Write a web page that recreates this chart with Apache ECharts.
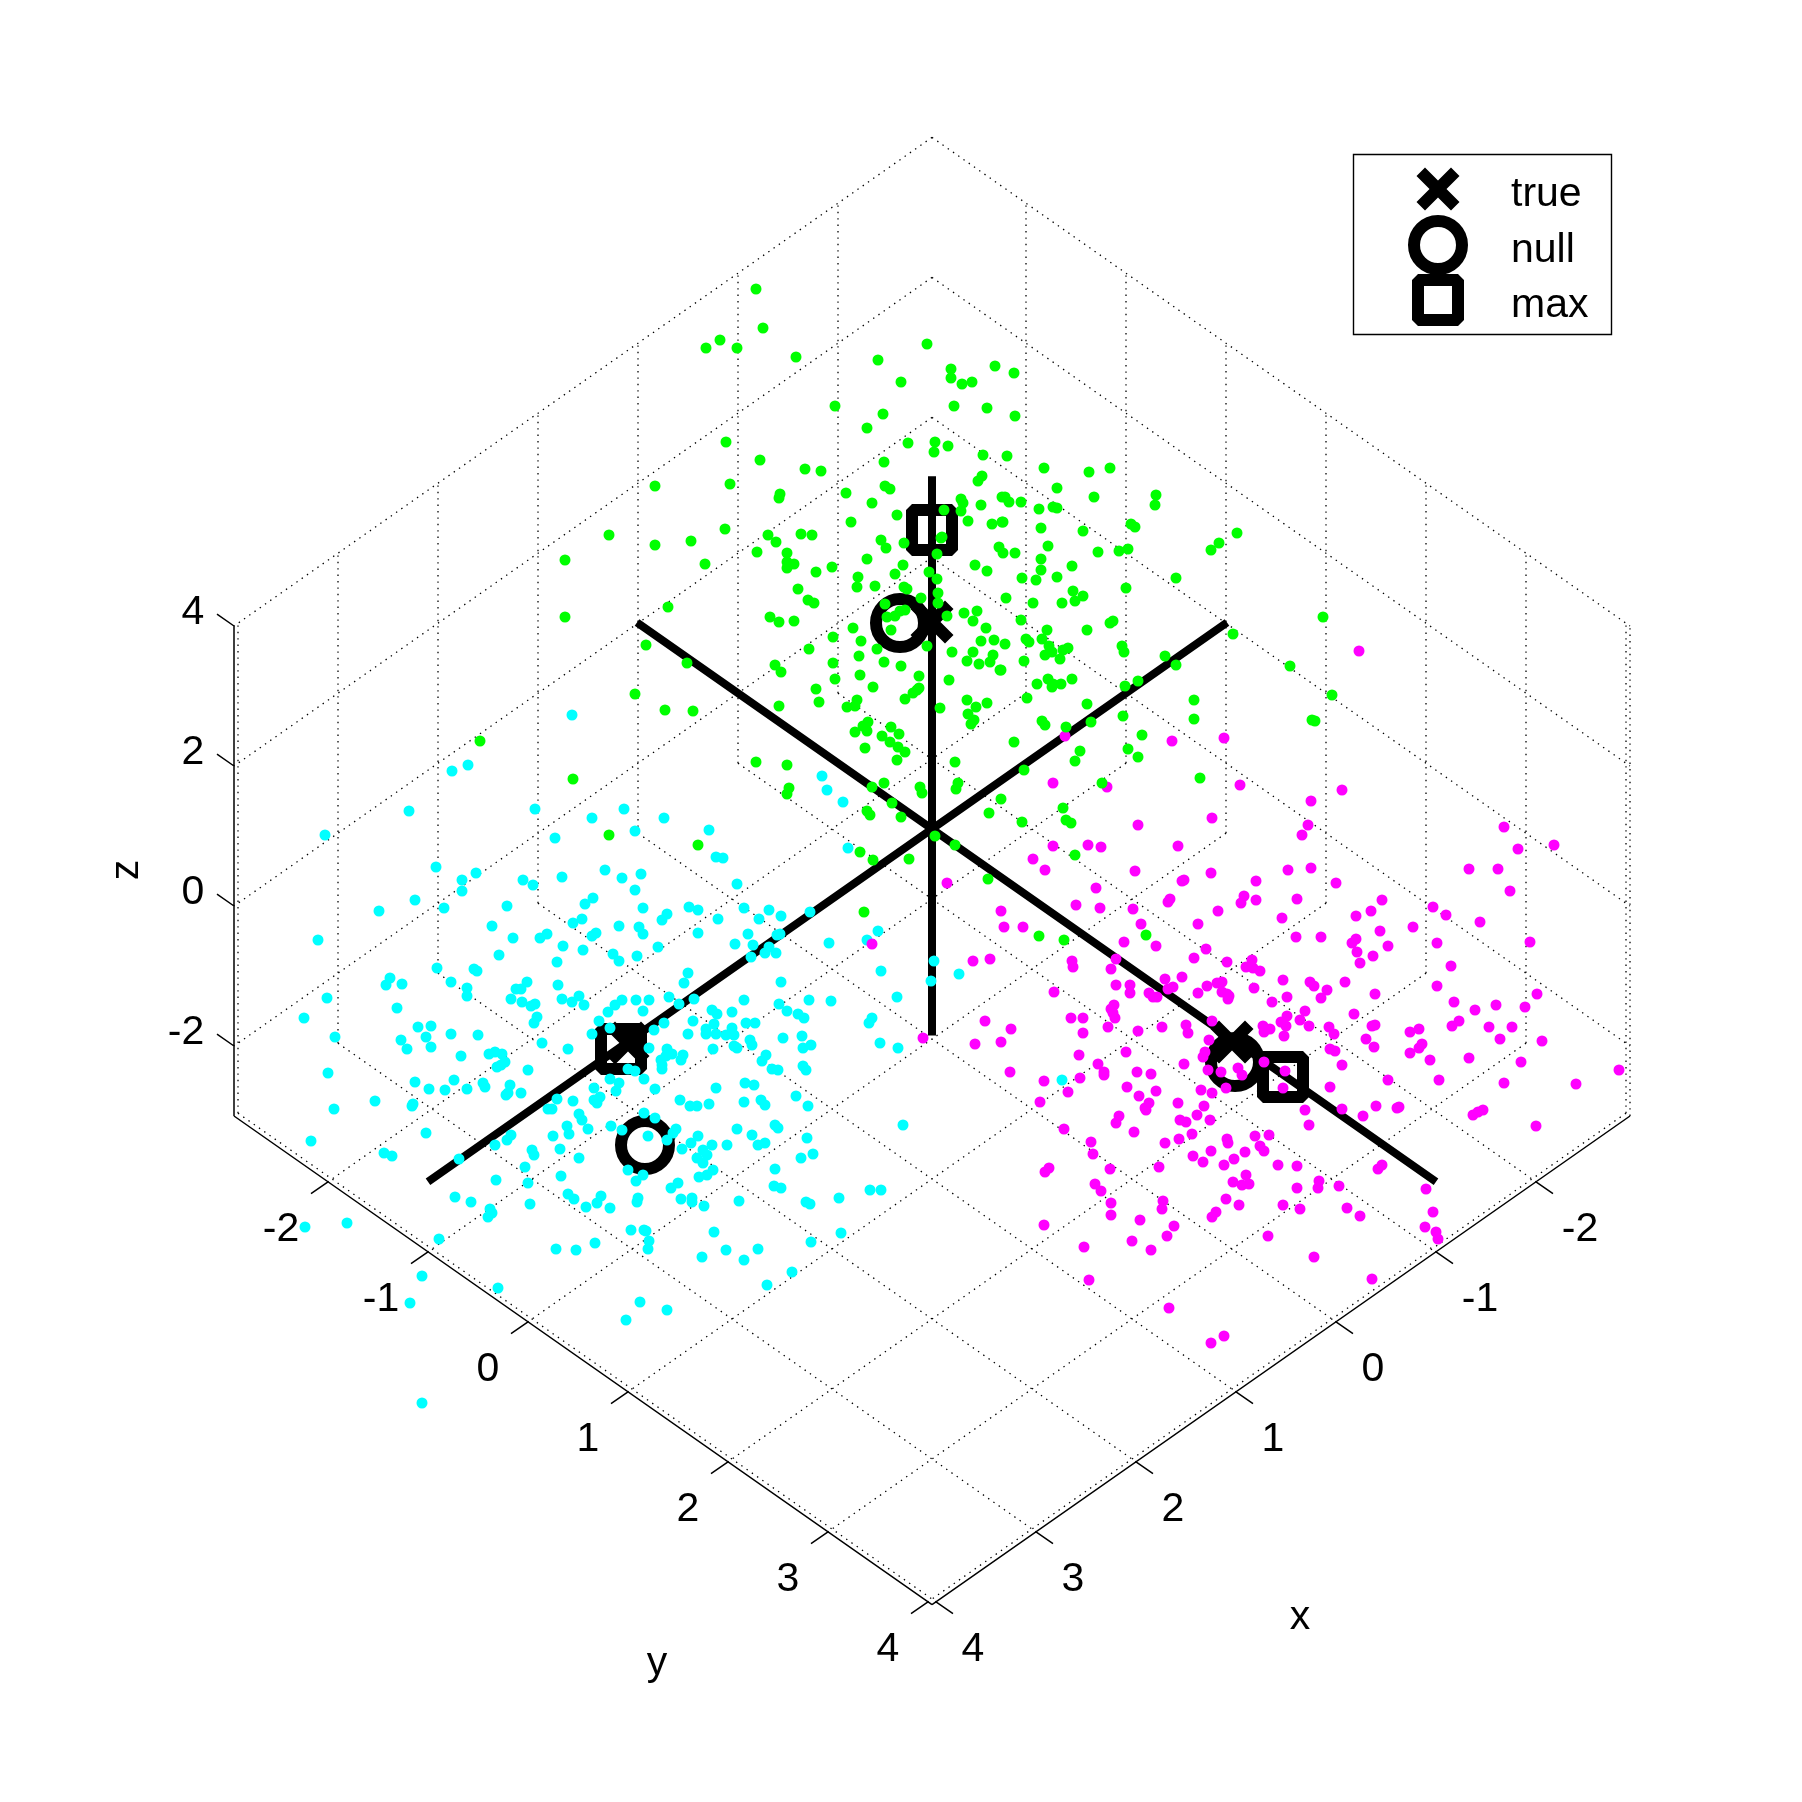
<!DOCTYPE html>
<html><head><meta charset="utf-8">
<style>html,body{margin:0;padding:0;background:#fff}#c{width:1802px;height:1802px}</style>
<script src="https://cdn.jsdelivr.net/npm/echarts@6/dist/echarts.min.js"></script>
</head><body><div id="c"></div>
<script>
// Axis data
const xTicks=[-2,-1,0,1,2,3,4];
const yTicks=[-2,-1,0,1,2,3,4];
const zTicks=[-2,0,2,4];
const xLim=[-2.94,4.04];
const yLim=[-2.94,4.04];
const zLim=[-3,4];
const centralAxisRange=[-2.95,5.04];
// Points (horizontal, vertical)
const greenPoints=[[756,289],[763,328],[720,340],[706,348],[737,348],[796,357],[927,344],[878,360],[951,369],[951,378],[962,384],[972,382],[901,382],[995,366],[1014,373],[835,406],[954,406],[987,408],[1015,416],[883,414],[867,428],[726,442],[908,443],[935,442],[934,452],[948,446],[983,455],[1007,456],[884,462],[1044,468],[760,460],[805,469],[821,471],[982,476],[978,481],[655,486],[730,484],[885,486],[890,489],[780,494],[779,498],[846,493],[961,499],[1002,497],[1005,497],[1089,472],[1110,468],[1057,488],[1094,497],[1156,495],[1155,505],[1009,502],[1021,502],[1039,509],[1053,507],[1057,508],[1003,522],[1041,528],[1083,531],[1131,524],[1135,527],[1048,546],[1003,553],[1015,553],[1098,552],[1119,551],[1128,549],[1211,550],[1219,543],[1237,533],[1041,559],[1041,570],[1072,566],[1022,578],[1036,580],[1057,577],[1176,578],[1126,588],[1073,591],[1083,596],[1075,601],[1006,598],[1033,603],[1062,603],[1021,620],[1323,617],[1113,621],[1110,623],[1047,630],[1087,630],[1233,634],[1026,639],[1029,642],[1042,639],[1005,644],[1049,646],[1068,648],[1063,650],[1052,652],[1045,655],[1122,646],[1124,652],[1060,659],[1024,661],[1165,656],[1176,665],[1290,666],[1001,670],[1048,679],[1072,679],[1037,684],[1053,684],[1052,687],[1061,684],[1138,681],[1125,686],[1027,698],[1087,704],[1194,700],[1332,695],[1123,716],[1194,719],[1042,721],[1045,725],[1312,720],[1315,721],[1066,727],[1091,722],[1142,735],[1014,742],[872,503],[897,515],[851,522],[725,529],[768,535],[801,534],[812,535],[776,542],[757,552],[787,553],[787,562],[794,564],[787,568],[705,564],[816,572],[832,567],[867,559],[881,540],[886,548],[904,543],[944,510],[961,511],[963,503],[968,521],[981,505],[992,524],[1002,522],[937,554],[941,538],[942,537],[903,565],[895,574],[929,572],[858,577],[857,587],[875,586],[937,579],[904,587],[907,589],[938,593],[798,589],[808,600],[814,603],[921,598],[938,603],[885,604],[999,547],[975,565],[987,571],[770,617],[779,622],[794,621],[905,610],[900,611],[895,616],[887,617],[947,616],[964,613],[977,611],[973,621],[986,628],[891,630],[853,628],[833,637],[861,641],[809,649],[877,649],[927,646],[981,641],[994,640],[952,652],[973,652],[993,655],[990,662],[967,661],[979,664],[1000,670],[833,663],[859,656],[884,662],[901,666],[775,665],[781,672],[860,675],[835,679],[919,676],[949,680],[873,687],[816,689],[919,688],[913,693],[917,690],[905,699],[819,702],[857,700],[847,707],[855,706],[779,706],[967,700],[976,707],[987,703],[940,708],[968,714],[974,720],[971,724],[868,722],[863,726],[867,731],[855,732],[891,727],[899,734],[882,736],[890,742],[898,747],[905,752],[865,748],[897,760],[1080,751],[1075,761],[955,762],[756,762],[787,765],[1024,770],[872,787],[884,783],[920,787],[922,793],[958,783],[956,789],[789,788],[787,794],[1001,799],[1128,749],[1138,757],[1102,783],[1200,778],[989,813],[1022,822],[1063,808],[1066,820],[1071,823],[892,803],[901,817],[867,811],[870,815],[935,836],[955,845],[860,852],[873,860],[909,859],[1075,855],[988,879],[864,912],[1039,936],[1064,940],[1146,935],[655,545],[691,541],[609,535],[565,560],[565,617],[668,607],[646,645],[687,663],[635,694],[665,710],[693,711],[480,741],[573,779],[609,835],[698,845]];
const cyanPoints=[[572,715],[468,765],[452,771],[325,835],[409,811],[535,809],[624,809],[592,818],[635,831],[664,818],[709,830],[716,857],[723,858],[436,867],[476,873],[462,880],[462,891],[415,900],[379,911],[444,908],[555,838],[523,880],[533,885],[562,877],[605,870],[622,878],[641,874],[635,890],[593,898],[585,904],[582,919],[573,923],[507,906],[492,926],[513,938],[540,938],[547,934],[563,946],[583,950],[592,936],[596,933],[619,926],[639,927],[643,934],[643,908],[662,920],[667,914],[689,907],[698,910],[698,933],[658,947],[637,956],[613,954],[619,961],[557,962],[499,955],[318,940],[437,968],[474,969],[477,971],[451,982],[467,988],[467,996],[390,978],[386,985],[402,984],[327,998],[304,1018],[397,1008],[527,982],[516,989],[521,989],[511,999],[522,1002],[531,1006],[535,1004],[537,1017],[534,1023],[558,985],[562,999],[572,1002],[579,996],[584,1005],[615,1005],[622,1000],[608,1012],[636,1000],[649,1000],[643,1011],[669,997],[688,973],[684,983],[694,999],[679,1004],[599,1021],[610,1028],[592,1034],[654,1030],[664,1023],[693,1021],[688,1034],[335,1037],[418,1027],[431,1026],[426,1037],[451,1034],[478,1035],[401,1040],[407,1049],[431,1047],[542,1043],[568,1049],[649,1048],[461,1056],[489,1054],[495,1052],[502,1054],[505,1062],[501,1065],[497,1067],[528,1070],[667,1049],[672,1054],[661,1060],[666,1056],[683,1055],[681,1060],[662,1065],[662,1069],[328,1073],[415,1082],[454,1080],[429,1089],[445,1090],[467,1089],[483,1083],[485,1087],[510,1085],[508,1093],[506,1095],[521,1093],[628,1069],[635,1071],[610,1079],[619,1083],[616,1091],[644,1079],[655,1089],[594,1088],[600,1097],[594,1100],[597,1103],[573,1101],[680,1100],[690,1106],[697,1106],[375,1101],[334,1109],[413,1104],[412,1106],[579,1114],[557,1099],[548,1109],[552,1109],[644,1113],[655,1118],[737,884],[718,919],[744,908],[769,910],[759,919],[781,916],[810,912],[748,934],[780,934],[777,935],[735,944],[753,945],[769,947],[765,953],[776,953],[829,943],[867,940],[878,931],[751,957],[881,971],[781,982],[744,1000],[809,1000],[831,1001],[897,997],[779,1004],[712,1010],[717,1014],[732,1012],[787,1011],[798,1014],[804,1018],[872,1018],[869,1023],[714,1024],[706,1029],[706,1034],[716,1034],[732,1028],[726,1035],[734,1035],[746,1023],[755,1023],[783,1038],[802,1036],[750,1040],[752,1045],[734,1046],[737,1048],[713,1049],[811,1045],[803,1048],[880,1043],[898,1048],[766,1055],[762,1061],[772,1069],[778,1070],[803,1066],[806,1070],[716,1088],[745,1083],[754,1085],[709,1104],[744,1102],[761,1100],[765,1105],[796,1096],[808,1106],[611,1126],[622,1130],[676,1129],[673,1133],[737,1129],[775,1125],[778,1128],[903,1125],[648,1136],[667,1140],[698,1136],[752,1135],[807,1138],[682,1149],[691,1143],[712,1145],[727,1145],[758,1145],[765,1143],[703,1150],[707,1155],[697,1158],[703,1163],[813,1154],[801,1158],[775,1169],[628,1170],[643,1175],[713,1170],[707,1175],[699,1177],[678,1183],[426,1133],[553,1136],[582,1120],[588,1129],[567,1126],[569,1134],[507,1140],[511,1135],[495,1145],[532,1150],[534,1155],[560,1149],[579,1158],[525,1167],[496,1180],[528,1183],[561,1176],[455,1197],[471,1202],[530,1204],[568,1194],[574,1199],[601,1196],[597,1203],[586,1207],[610,1208],[636,1181],[671,1188],[638,1198],[637,1202],[681,1199],[692,1198],[692,1202],[704,1206],[739,1201],[774,1186],[781,1188],[806,1202],[810,1204],[490,1209],[492,1213],[488,1217],[631,1230],[644,1230],[646,1231],[649,1241],[648,1249],[714,1232],[595,1243],[556,1249],[576,1250],[702,1257],[726,1250],[744,1260],[758,1249],[811,1242],[439,1239],[792,1272],[767,1285],[498,1288],[640,1302],[667,1310],[626,1320],[422,1276],[384,1153],[392,1156],[459,1159],[305,1227],[347,1223],[410,1303],[422,1403],[311,1141],[822,776],[827,790],[843,802],[848,848],[934,961],[931,981],[959,974],[1062,1080],[870,1190],[881,1190],[841,1233],[839,1198]];
const magentaPoints=[[1065,736],[1172,741],[1224,738],[1053,783],[1107,787],[1138,825],[1053,846],[1088,845],[1101,847],[1178,846],[1033,859],[1045,870],[1135,871],[1182,881],[1184,880],[947,883],[1096,888],[1170,899],[1168,902],[1076,905],[1100,908],[1133,909],[1001,911],[1004,927],[1023,927],[1141,924],[1198,924],[1124,942],[1156,946],[872,944],[1116,959],[1072,961],[1073,967],[1111,969],[973,961],[990,959],[1194,958],[1165,979],[1182,977],[1116,985],[1130,985],[1130,993],[1173,987],[1168,989],[1054,992],[1149,993],[1153,997],[1157,997],[1198,993],[1256,881],[1244,896],[1241,903],[1256,900],[1218,911],[1282,918],[1297,899],[1296,937],[1206,949],[1227,962],[1252,960],[1246,967],[1253,968],[1260,971],[1283,980],[1207,986],[1217,983],[1222,982],[1254,988],[1222,992],[1227,994],[1229,996],[1228,999],[1272,1002],[1287,997],[1114,1005],[1111,1009],[1113,1013],[1115,1018],[1071,1018],[1083,1018],[1108,1027],[1011,1029],[1138,1031],[1162,1027],[1083,1033],[1186,1025],[1188,1033],[1212,1021],[1287,1016],[1281,1022],[1286,1026],[1263,1026],[1264,1032],[1270,1029],[1300,1020],[1284,1036],[1001,1042],[1209,1040],[1079,1055],[1126,1052],[1205,1052],[1203,1057],[1098,1064],[1184,1064],[1104,1072],[1104,1075],[1137,1072],[1151,1074],[1010,1072],[1044,1081],[1080,1078],[1068,1092],[1127,1087],[1156,1091],[1139,1096],[1040,1102],[1149,1103],[1145,1108],[1146,1110],[1178,1103],[1201,1090],[1212,1093],[1226,1088],[1264,1062],[1285,1071],[1283,1088],[1221,1072],[1238,1068],[1242,1075],[1208,1070],[1204,1106],[1197,1115],[1180,1120],[1186,1122],[1210,1120],[1119,1116],[1116,1123],[1134,1132],[1064,1129],[1192,1134],[1179,1139],[1165,1143],[1091,1142],[1093,1154],[1255,1136],[1269,1135],[1227,1139],[1228,1143],[1260,1146],[1264,1151],[1193,1156],[1211,1151],[1203,1162],[1245,1152],[1234,1159],[1224,1165],[1278,1165],[1297,1166],[1159,1167],[1110,1169],[1049,1168],[1045,1172],[1246,1175],[1233,1182],[1305,1110],[1309,1125],[1342,1109],[1363,1116],[1376,1106],[1397,1108],[1378,1169],[1382,1165],[1319,1181],[1318,1188],[1297,1188],[1339,1186],[1283,1205],[1300,1209],[1347,1208],[1360,1216],[1242,1185],[1249,1184],[1226,1199],[1239,1205],[1268,1236],[1314,1257],[1372,1279],[1216,1212],[1212,1217],[1163,1201],[1162,1209],[1095,1184],[1101,1191],[1111,1203],[1111,1215],[1140,1220],[1174,1226],[1167,1236],[1132,1241],[1151,1250],[1044,1225],[1084,1247],[1089,1280],[1169,1308],[1224,1336],[1211,1343],[1311,801],[1308,825],[1302,835],[1504,827],[1518,849],[1554,845],[1288,870],[1311,868],[1469,869],[1498,869],[1336,883],[1510,891],[1382,900],[1433,907],[1446,915],[1371,911],[1356,916],[1480,922],[1413,927],[1380,931],[1321,937],[1356,939],[1352,943],[1437,943],[1530,942],[1388,946],[1357,952],[1373,956],[1360,963],[1451,966],[1310,982],[1314,986],[1345,982],[1327,990],[1321,998],[1437,986],[1375,994],[1537,994],[1454,1002],[1496,1005],[1525,1007],[1475,1010],[1305,1011],[1354,1014],[1309,1026],[1459,1021],[1452,1026],[1329,1027],[1334,1034],[1372,1026],[1375,1025],[1419,1029],[1410,1032],[1489,1027],[1512,1027],[1366,1039],[1500,1039],[1542,1041],[1330,1049],[1335,1051],[1374,1047],[1422,1044],[1419,1048],[1410,1053],[1430,1060],[1469,1058],[1521,1062],[1342,1065],[1619,1070],[1388,1080],[1439,1080],[1504,1083],[1576,1084],[1330,1087],[1359,651],[1342,790],[1240,785],[1212,818],[1211,873],[1426,1189],[1433,1212],[1436,1232],[1425,1227],[1438,1239],[1478,1112],[1473,1115],[1483,1110],[1536,1126],[1399,1107],[923,1038],[985,1021],[975,1044]];
// Estimators as read off the view plane
const trueReadings=[[932,622],[1232,1042],[628,1043]];
const nullReadings=[[900,623],[1235,1062],[645,1145]];
const maxReadings=[[932,530],[1283,1077],[621,1049]];
const legendNames=['true','null','max'];
const legendRowsY=[189,245,300];
const legendTextY=[195,251,306];

// view projection from the 3D axes to the view plane
const P=(x,y,z)=>[932+100*(y-x),829+70*(x+y)-70*z];
const BREAK=[NaN,NaN];
function segs(list){const out=[];list.forEach(s=>{out.push(P(...s[0]),P(...s[1]),BREAK)});return out;}
const gridSegs=[];
xTicks.forEach(t=>{gridSegs.push([[t,yLim[0],zLim[0]],[t,yLim[1],zLim[0]]]);gridSegs.push([[t,yLim[0],zLim[0]],[t,yLim[0],zLim[1]]]);});
yTicks.forEach(t=>{gridSegs.push([[xLim[0],t,zLim[0]],[xLim[1],t,zLim[0]]]);gridSegs.push([[xLim[0],t,zLim[0]],[xLim[0],t,zLim[1]]]);});
zTicks.forEach(t=>{gridSegs.push([[xLim[0],yLim[0],t],[xLim[1],yLim[0],t]]);gridSegs.push([[xLim[0],yLim[0],t],[xLim[0],yLim[1],t]]);});
// right-hand box edge
gridSegs.push([[xLim[0],yLim[1],zLim[0]],[xLim[0],yLim[1],zLim[1]]]);
const axisSegs=[
 [[xLim[1],yLim[0],zLim[0]],[xLim[1],yLim[1],zLim[0]]],
 [[xLim[0],yLim[1],zLim[0]],[xLim[1],yLim[1],zLim[0]]],
 [[xLim[1],yLim[0],zLim[0]],[xLim[1],yLim[0],zLim[1]]]
];
const T=0.17;
xTicks.forEach(t=>axisSegs.push([[t,yLim[1],zLim[0]],[t,yLim[1]+T,zLim[0]]]));
yTicks.forEach(t=>axisSegs.push([[xLim[1],t,zLim[0]],[xLim[1]+T,t,zLim[0]]]));
zTicks.forEach(t=>axisSegs.push([[xLim[1],yLim[0],t],[xLim[1],yLim[0]-T,t]]));
const [a0,a1]=centralAxisRange;
const thickSegs=[[[a0,0,0],[a1,0,0]],[[0,a0,0],[0,a1,0]],[[0,0,a0],[0,0,a1]]];

const lineS=(name,data,w,dash,z)=>({name,type:'line',data,showSymbol:false,symbol:'none',silent:true,clip:false,z,connectNulls:false,
  lineStyle:{color:'#000',width:w,type:dash||'solid',cap:'butt',opacity:1}});
const dots=(name,data,color,z)=>({name,type:'scatter',data,symbol:'circle',symbolSize:11,silent:true,z,itemStyle:{color,borderWidth:0,opacity:1}});
const XPATH='path://M8.5 0L21.5 13L34.5 0L43 8.5L30 21.5L43 34.5L34.5 43L21.5 30L8.5 43L0 34.5L13 21.5L0 8.5Z';
const mk={
 'true':{symbol:XPATH,symbolSize:43,itemStyle:{color:'#000',borderWidth:0,opacity:1}},
 'null':{symbol:'circle',symbolSize:48,itemStyle:{color:'rgba(0,0,0,0)',borderColor:'#000',borderWidth:12,opacity:1}},
 'max':{symbol:'rect',symbolSize:40,itemStyle:{color:'rgba(0,0,0,0)',borderColor:'#000',borderWidth:12,borderJoin:'bevel',opacity:1}}
};
const marks=(name,data,z)=>Object.assign({name,type:'scatter',data,silent:true,z},mk[name]);
const txt=(name,items,align,rot)=>({name,type:'scatter',symbolSize:0,silent:true,z:9,data:items,itemStyle:{opacity:1},
  label:{show:true,position:'inside',formatter:p=>p.data[2],fontFamily:'"Liberation Sans",Arial,sans-serif',fontSize:41,color:'#000',opacity:1,align:align,verticalAlign:'middle',rotate:rot||0}});
const fmt=t=>String(t);
const xLab=xTicks.map(t=>{const p=P(t,yLim[1],zLim[0]);return [p[0]+(t<0?44:37),p[1]+48,fmt(t)]});
const yLab=yTicks.map(t=>{const p=P(xLim[1],t,zLim[0]);return [p[0]-(t<0?47:40),p[1]+48,fmt(t)]});
const zLab=zTicks.map(t=>{const p=P(xLim[1],yLim[0],t);return [p[0]-(t<0?48:41),p[1]-13,fmt(t)]});

const chart=echarts.init(document.getElementById('c'),null,{renderer:'canvas',width:1802,height:1802});
chart.setOption({
 animation:false,backgroundColor:'#fff',
 grid:{left:0,right:0,top:0,bottom:0},
 xAxis:{type:'value',min:0,max:1802,show:false},
 yAxis:{type:'value',min:0,max:1802,inverse:true,show:false},
 graphic:[{type:'rect',shape:{x:1353.5,y:154.5,width:258,height:180},style:{fill:'#fff',stroke:'#000',lineWidth:1.4},z:7,silent:true}],
 series:[
  lineS('grid',segs(gridSegs),1.3,[1.4,5],1),
  lineS('axes',segs(axisSegs),1.5,null,1),
  lineS('centre axes',segs(thickSegs),8,null,2),
  marks('true',trueReadings,3),
  marks('null',nullReadings,3),
  marks('max',maxReadings,3),
  dots('y cluster',cyanPoints,'#00ffff',4),
  dots('x cluster',magentaPoints,'#ff00ff',5),
  dots('z cluster',greenPoints,'#00ff00',6),
  marks('true',[[1438,legendRowsY[0]]],8),
  marks('null',[[1438,legendRowsY[1]]],8),
  marks('max',[[1438,legendRowsY[2]]],8),
  txt('legend text',legendNames.map((n,i)=>[1511,legendTextY[i],n]),'left'),
  txt('x ticks',xLab,'center'),
  txt('y ticks',yLab,'center'),
  txt('z ticks',zLab,'center'),
  txt('x title',[[1300,1618,'x']],'center'),
  txt('y title',[[657,1664,'y']],'center'),
  txt('z title',[[127,870,'z']],'center',90)
 ]
});
</script></body></html>
